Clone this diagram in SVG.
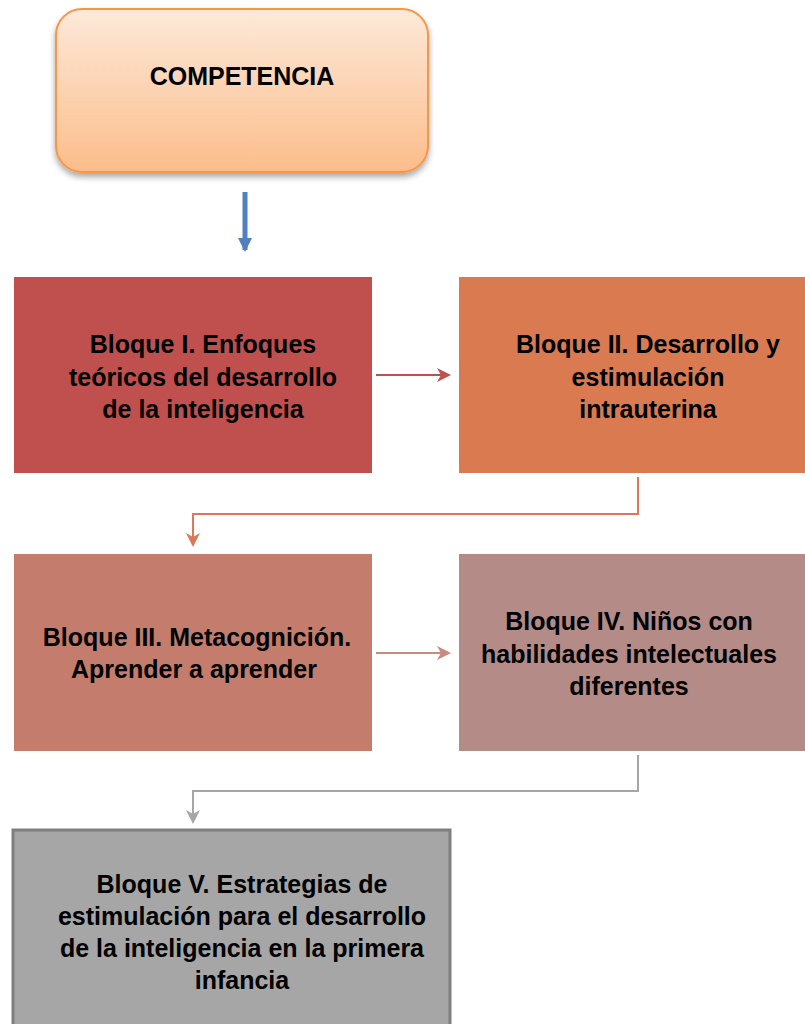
<svg xmlns="http://www.w3.org/2000/svg" width="805" height="1024" viewBox="0 0 805 1024">
<style>
.t{font-family:"Liberation Sans",Arial,sans-serif;font-weight:bold;font-size:25px;fill:#000;text-anchor:middle}
.c{fill:none;stroke-width:2}
</style>
<defs>
<linearGradient id="g1" x1="0" y1="0" x2="0" y2="1">
<stop offset="0" stop-color="#fde9d9"/>
<stop offset="1" stop-color="#fbbd8a"/>
</linearGradient>
<filter id="sh" x="-10%" y="-10%" width="120%" height="130%">
<feGaussianBlur in="SourceAlpha" stdDeviation="3"/>
<feOffset dx="0" dy="4"/>
<feComponentTransfer><feFuncA type="linear" slope="0.35"/></feComponentTransfer>
<feMerge><feMergeNode/><feMergeNode in="SourceGraphic"/></feMerge>
</filter>
<marker id="mBlue" markerWidth="14" markerHeight="14" refX="12" refY="7" orient="auto" markerUnits="userSpaceOnUse"><path d="M0,0 L14,7 L0,14 Z" fill="#4f81bd"/></marker>
<marker id="m1" markerWidth="14" markerHeight="14" refX="12" refY="7" orient="auto" markerUnits="userSpaceOnUse"><path d="M0,0 L14,7 L0,14 L4,7 Z" fill="#c0504d"/></marker>
<marker id="m2" markerWidth="14" markerHeight="14" refX="12" refY="7" orient="auto" markerUnits="userSpaceOnUse"><path d="M0,0 L14,7 L0,14 L4,7 Z" fill="#d9795a"/></marker>
<marker id="m3" markerWidth="14" markerHeight="14" refX="12" refY="7" orient="auto" markerUnits="userSpaceOnUse"><path d="M0,0 L14,7 L0,14 L4,7 Z" fill="#c98a80"/></marker>
<marker id="m4" markerWidth="14" markerHeight="14" refX="12" refY="7" orient="auto" markerUnits="userSpaceOnUse"><path d="M0,0 L14,7 L0,14 L4,7 Z" fill="#a6a6a6"/></marker>
</defs>
<g id="competencia">
<rect x="56" y="9" width="372" height="163" rx="26" fill="url(#g1)" stroke="#f79646" stroke-width="2" filter="url(#sh)"/>
<text class="t" x="242" y="85">COMPETENCIA</text>
</g>
<g id="bloque1">
<rect x="14" y="277" width="358" height="196" fill="#c0504d"/>
<text class="t" x="203" y="353">Bloque I. Enfoques</text>
<text class="t" x="203" y="386">teóricos del desarrollo</text>
<text class="t" x="203" y="418">de la inteligencia</text>
</g>
<g id="bloque2">
<rect x="459" y="277" width="346" height="196" fill="#d97a50"/>
<text class="t" x="648" y="353">Bloque II. Desarrollo y</text>
<text class="t" x="648" y="386">estimulación</text>
<text class="t" x="648" y="418">intrauterina</text>
</g>
<g id="bloque3">
<rect x="14" y="554" width="358" height="197" fill="#c47d6c"/>
<text class="t" x="197" y="646">Bloque III. Metacognición.</text>
<text class="t" x="194" y="678">Aprender a aprender</text>
</g>
<g id="bloque4">
<rect x="459" y="554" width="346" height="197" fill="#b48b87"/>
<text class="t" x="629" y="630">Bloque IV. Niños con</text>
<text class="t" x="629" y="663">habilidades intelectuales</text>
<text class="t" x="629" y="695">diferentes</text>
</g>
<g id="bloque5">
<rect x="13" y="830" width="437" height="200" fill="#a6a6a6" stroke="#7f7f7f" stroke-width="3"/>
<text class="t" x="242" y="893">Bloque V. Estrategias de</text>
<text class="t" x="242" y="925">estimulación para el desarrollo</text>
<text class="t" x="242" y="957">de la inteligencia en la primera</text>
<text class="t" x="242" y="989">infancia</text>
</g>
<g id="connectors">
<line x1="245" y1="192" x2="245" y2="250" stroke="#4f81bd" stroke-width="5" marker-end="url(#mBlue)"/>
<line class="c" x1="376" y1="375" x2="449" y2="375" stroke="#c0504d" marker-end="url(#m1)"/>
<polyline class="c" points="638,477 638,514 193,514 193,545" stroke="#d9795a" marker-end="url(#m2)"/>
<line class="c" x1="376" y1="653" x2="449" y2="653" stroke="#c98a80" marker-end="url(#m3)"/>
<polyline class="c" points="638,755 638,791 193,791 193,822" stroke="#a6a6a6" marker-end="url(#m4)"/>
</g>
</svg>
